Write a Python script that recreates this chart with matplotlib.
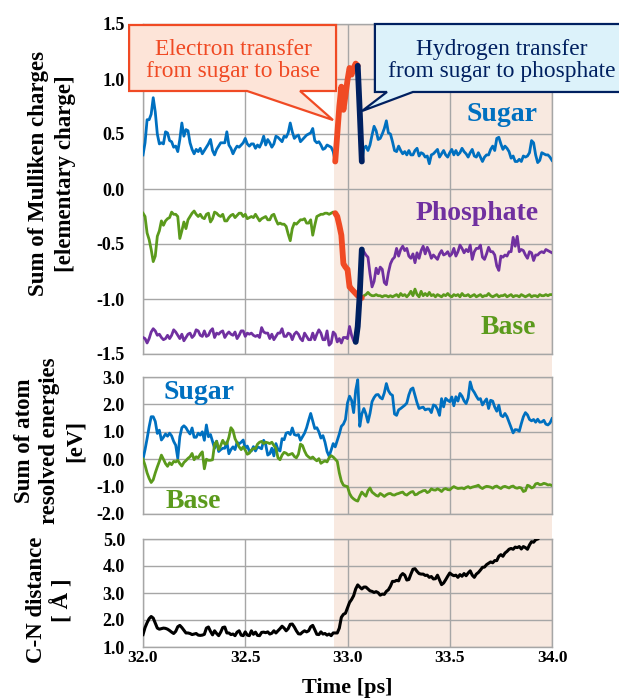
import numpy as np
import matplotlib
matplotlib.use('Agg')
import matplotlib.pyplot as plt
from matplotlib.patches import Polygon, Rectangle

plt.rcParams['font.family'] = ['Liberation Serif', 'DejaVu Serif']
plt.rcParams['axes.unicode_minus'] = False

# ---- data (0.01 ps sampling) ----
# Mulliken charges, top panel
sugar_q_pre = [0.31, 0.42, 0.63, 0.63, 0.68, 0.83, 0.70, 0.50, 0.41, 0.42,
               0.41, 0.52, 0.51, 0.44, 0.43, 0.38, 0.39, 0.34, 0.45, 0.60,
               0.48, 0.54, 0.53, 0.42, 0.36, 0.32, 0.36, 0.34, 0.37, 0.32,
               0.35, 0.38, 0.41, 0.45, 0.35, 0.31, 0.36, 0.39, 0.42, 0.42,
               0.42, 0.52, 0.40, 0.37, 0.32, 0.36, 0.39, 0.38, 0.40, 0.42,
               0.46, 0.41, 0.39, 0.41, 0.41, 0.37, 0.40, 0.38, 0.42, 0.48,
               0.40, 0.45, 0.42, 0.38, 0.41, 0.48, 0.47, 0.45, 0.43, 0.48,
               0.47, 0.51, 0.60, 0.52, 0.46, 0.48, 0.49, 0.43, 0.45, 0.47,
               0.49, 0.50, 0.51, 0.55, 0.44, 0.42, 0.43, 0.40, 0.36, 0.37,
               0.40, 0.39, 0.38, 0.34, 0.25]
sugar_q_et = [0.25, 0.50, 0.75, 0.93, 0.72, 0.85, 0.99, 1.10, 1.04, 1.10, 1.14, 1.12]
sugar_q_ht_t = [33.05, 33.06, 33.07]
sugar_q_ht = [1.12, 0.70, 0.25]
sugar_q_post = [0.25, 0.37, 0.39, 0.35, 0.40, 0.49, 0.57, 0.53, 0.45, 0.46,
                0.50, 0.55, 0.62, 0.51, 0.50, 0.43, 0.35, 0.34, 0.39, 0.35,
                0.32, 0.34, 0.31, 0.35, 0.31, 0.31, 0.35, 0.37, 0.30, 0.33,
                0.32, 0.29, 0.30, 0.23, 0.31, 0.32, 0.34, 0.36, 0.29, 0.32,
                0.35, 0.31, 0.29, 0.33, 0.36, 0.31, 0.35, 0.31, 0.33, 0.37,
                0.34, 0.32, 0.29, 0.33, 0.36, 0.30, 0.29, 0.33, 0.29, 0.25,
                0.29, 0.31, 0.31, 0.36, 0.39, 0.35, 0.46, 0.47, 0.41, 0.36,
                0.39, 0.37, 0.34, 0.28, 0.30, 0.25, 0.25, 0.27, 0.25, 0.30,
                0.29, 0.30, 0.33, 0.44, 0.42, 0.31, 0.24, 0.26, 0.33, 0.32,
                0.31, 0.31, 0.29, 0.26]

base_q_pre = [-0.22, -0.25, -0.40, -0.46, -0.55, -0.66, -0.61, -0.43, -0.38, -0.29,
              -0.33, -0.29, -0.27, -0.26, -0.21, -0.23, -0.23, -0.25, -0.45, -0.38,
              -0.30, -0.36, -0.28, -0.25, -0.22, -0.20, -0.23, -0.25, -0.23, -0.26,
              -0.27, -0.23, -0.22, -0.30, -0.27, -0.21, -0.22, -0.24, -0.25, -0.23,
              -0.29, -0.29, -0.26, -0.24, -0.23, -0.26, -0.24, -0.22, -0.22, -0.25,
              -0.23, -0.27, -0.26, -0.25, -0.26, -0.23, -0.26, -0.29, -0.27, -0.26,
              -0.25, -0.28, -0.28, -0.24, -0.23, -0.28, -0.32, -0.31, -0.32, -0.32,
              -0.34, -0.41, -0.47, -0.36, -0.31, -0.32, -0.30, -0.28, -0.28, -0.27,
              -0.31, -0.31, -0.28, -0.42, -0.33, -0.25, -0.24, -0.23, -0.23, -0.22,
              -0.22, -0.23, -0.22, -0.21, -0.22]
base_q_et = [-0.22, -0.25, -0.33, -0.42, -0.68, -0.71, -0.73, -0.89, -0.91, -0.93,
             -0.95, -0.97, -0.98, -0.99]
base_q_post = [-0.99, -0.97, -0.96, -0.94, -0.96, -0.97, -0.97, -0.96, -0.97, -0.97,
               -0.98, -0.97, -0.97, -0.98, -0.97, -0.98, -0.97, -0.96, -0.98, -0.95,
               -0.97, -0.96, -0.98, -0.96, -0.93, -0.97, -0.91, -0.96, -0.98, -0.93,
               -0.97, -0.95, -0.97, -0.94, -0.97, -0.96, -0.98, -0.96, -0.97, -0.98,
               -0.96, -0.97, -0.95, -0.97, -0.98, -0.96, -0.97, -0.96, -0.98, -0.95,
               -0.97, -0.97, -0.96, -0.98, -0.97, -0.96, -0.98, -0.97, -0.96, -0.98,
               -0.97, -0.97, -0.95, -0.97, -0.98, -0.97, -0.96, -0.98, -0.97, -0.97,
               -0.96, -0.98, -0.97, -0.96, -0.98, -0.97, -0.97, -0.98, -0.96, -0.97,
               -0.98, -0.97, -0.96, -0.98, -0.97, -0.97, -0.98, -0.96, -0.97, -0.97,
               -0.96, -0.97, -0.96, -0.96]

phos_q_pre = [-1.35, -1.36, -1.40, -1.36, -1.30, -1.27, -1.29, -1.33, -1.32, -1.35,
              -1.37, -1.36, -1.33, -1.36, -1.33, -1.28, -1.30, -1.33, -1.36, -1.32,
              -1.38, -1.35, -1.32, -1.31, -1.35, -1.33, -1.28, -1.29, -1.33, -1.34,
              -1.29, -1.34, -1.33, -1.29, -1.27, -1.35, -1.31, -1.32, -1.30, -1.29,
              -1.35, -1.32, -1.30, -1.32, -1.33, -1.30, -1.36, -1.33, -1.29, -1.29,
              -1.34, -1.31, -1.32, -1.31, -1.33, -1.34, -1.33, -1.35, -1.26, -1.30,
              -1.31, -1.31, -1.36, -1.32, -1.37, -1.34, -1.31, -1.31, -1.27, -1.34,
              -1.34, -1.31, -1.32, -1.37, -1.32, -1.30, -1.32, -1.36, -1.38, -1.31,
              -1.34, -1.37, -1.37, -1.31, -1.37, -1.32, -1.28, -1.31, -1.37, -1.37,
              -1.29, -1.42, -1.40, -1.30, -1.32, -1.39, -1.36, -1.40, -1.35, -1.35,
              -1.36, -1.25, -1.33, -1.38, -1.39]
phos_q_ht_t = [33.04, 33.05, 33.06, 33.07]
phos_q_ht = [-1.39, -1.25, -0.95, -0.55]
phos_q_post = [-0.55, -0.57, -0.60, -0.62, -0.77, -0.89, -0.84, -0.72, -0.77, -0.71,
               -0.73, -0.85, -0.87, -0.76, -0.68, -0.64, -0.62, -0.54, -0.61, -0.55,
               -0.52, -0.56, -0.54, -0.61, -0.63, -0.59, -0.67, -0.58, -0.63, -0.56,
               -0.52, -0.59, -0.53, -0.57, -0.63, -0.60, -0.62, -0.64, -0.59, -0.56,
               -0.60, -0.59, -0.57, -0.61, -0.59, -0.54, -0.61, -0.57, -0.51, -0.54,
               -0.58, -0.55, -0.57, -0.51, -0.64, -0.57, -0.54, -0.54, -0.51, -0.62,
               -0.64, -0.59, -0.53, -0.57, -0.57, -0.60, -0.70, -0.74, -0.61, -0.62,
               -0.60, -0.61, -0.57, -0.57, -0.44, -0.52, -0.43, -0.57, -0.55, -0.56,
               -0.60, -0.63, -0.57, -0.58, -0.65, -0.60, -0.60, -0.58, -0.57, -0.58,
               -0.55, -0.56, -0.57, -0.58]

# atom resolved energies, middle panel
sugar_e = [0.00, 0.35, 0.75, 1.18, 1.55, 1.55, 1.38, 0.94, 1.06, 0.70,
           0.80, 0.92, 0.84, 0.95, 0.85, 0.65, 0.51, 0.03, 0.82, 1.15,
           1.22, 1.15, 1.02, 0.92, 1.14, 0.80, 0.80, 0.95, 0.88, 1.00,
           0.69, 1.25, 0.82, 0.90, 0.65, 0.40, 0.66, 0.28, 0.35, 0.40,
           0.40, 0.63, 0.20, 0.35, 0.45, 0.35, 0.62, 0.56, 0.62, 0.70,
           0.40, 0.48, 0.30, 0.30, 0.46, 0.30, 0.45, 0.42, 0.38, 0.69,
           0.53, 0.15, 0.20, 0.40, 0.12, 0.57, 0.35, 0.30, 0.75, 0.71,
           0.95, 0.98, 0.90, 1.14, 0.90, 0.87, 0.90, 0.69, 0.82, 0.95,
           1.15, 1.42, 1.67, 1.40, 1.12, 1.15, 1.00, 0.77, 0.86, 0.62,
           0.28, 0.11, 0.33, 0.57, 0.45, 0.69, 0.92, 1.20, 1.28, 1.45,
           2.05, 2.30, 2.15, 1.70, 2.51, 2.90, 1.20, 1.65, 1.85, 1.65,
           1.35, 1.67, 2.10, 2.25, 2.35, 2.36, 2.25, 2.20, 2.42, 2.76,
           2.50, 2.38, 2.33, 1.65, 1.60, 1.80, 1.85, 1.91, 1.97, 2.05,
           2.35, 2.55, 2.60, 2.33, 2.06, 1.85, 1.88, 1.90, 1.80, 1.83,
           1.83, 1.70, 1.98, 1.95, 1.82, 1.60, 2.21, 1.91, 2.22, 2.15,
           2.10, 2.27, 1.95, 2.28, 2.12, 2.40, 2.30, 2.13, 2.03, 2.24,
           2.82, 2.55, 2.44, 2.30, 2.18, 2.21, 1.98, 2.10, 2.20, 1.85,
           2.15, 2.12, 1.90, 1.75, 1.97, 1.60, 1.55, 1.67, 1.55, 1.35,
           1.15, 0.96, 1.08, 1.07, 1.02, 1.30, 1.55, 1.70, 1.62, 1.45,
           1.40, 1.45, 1.35, 1.46, 1.35, 1.36, 1.42, 1.28, 1.25, 1.32,
           1.48]
base_e = [0.00, -0.22, -0.50, -0.70, -0.85, -0.75, -0.50, -0.28, -0.08, 0.15,
          0.00, -0.16, -0.26, -0.13, -0.20, -0.08, -0.10, -0.04, -0.16, -0.25,
          -0.12, -0.05, 0.03, 0.09, 0.21, -0.02, 0.09, 0.05, 0.18, 0.27,
          -0.35, 0.00, -0.04, -0.04, -0.02, 0.55, 0.65, 0.35, 0.50, 0.69,
          0.55, 0.57, 0.80, 1.15, 1.05, 0.75, 0.60, 0.45, 0.35, 0.45,
          0.33, 0.18, 0.22, 0.33, 0.39, 0.39, 0.55, 0.62, 0.65, 0.57,
          0.62, 0.60, 0.57, 0.62, 0.50, 0.40, 0.05, -0.02, 0.15, 0.25,
          0.22, 0.15, 0.18, 0.21, 0.10, 0.05, 0.18, 0.55, 0.50, 0.30,
          0.15, 0.08, 0.03, 0.08, 0.00, -0.06, 0.02, -0.15, -0.10, -0.06,
          -0.10, 0.05, 0.13, 0.08, 0.00, -0.08, -0.50, -0.80, -0.95, -0.98,
          -1.00, -1.25, -1.38, -1.45, -1.50, -1.53, -1.35, -1.20, -1.28, -1.35,
          -1.15, -1.05, -1.20, -1.26, -1.32, -1.35, -1.25, -1.30, -1.36, -1.30,
          -1.26, -1.25, -1.30, -1.31, -1.27, -1.25, -1.22, -1.20, -1.28, -1.31,
          -1.25, -1.20, -1.18, -1.30, -1.28, -1.22, -1.19, -1.15, -1.14, -1.22,
          -1.18, -1.08, -1.12, -1.13, -1.08, -1.12, -1.18, -1.10, -1.07, -1.11,
          -1.12, -1.05, -1.00, -1.04, -1.07, -1.06, -1.05, -1.08, -1.03, -1.00,
          -1.05, -1.02, -1.00, -0.98, -0.95, -1.03, -1.07, -1.02, -0.99, -1.00,
          -1.02, -1.06, -1.00, -0.98, -1.03, -1.07, -1.01, -0.99, -1.02, -1.05,
          -1.00, -0.98, -1.04, -1.06, -1.03, -1.05, -1.18, -1.15, -0.95, -0.98,
          -1.05, -1.02, -0.90, -0.88, -0.93, -0.92, -0.88, -0.90, -0.94, -0.93,
          -0.96]

# C-N distance, bottom panel
cn_dist = [1.46, 1.72, 1.90, 2.05, 2.13, 2.07, 1.89, 1.70, 1.66, 1.68,
           1.70, 1.69, 1.66, 1.61, 1.55, 1.50, 1.58, 1.75, 1.80, 1.72,
           1.62, 1.52, 1.52, 1.50, 1.46, 1.48, 1.50, 1.44, 1.43, 1.44,
           1.47, 1.70, 1.74, 1.58, 1.45, 1.60, 1.50, 1.42, 1.55, 1.72,
           1.74, 1.52, 1.52, 1.46, 1.48, 1.42, 1.55, 1.60, 1.44, 1.42,
           1.56, 1.44, 1.42, 1.60, 1.47, 1.55, 1.43, 1.42, 1.54, 1.55,
           1.53, 1.56, 1.48, 1.51, 1.60, 1.52, 1.60, 1.68, 1.77, 1.70,
           1.60, 1.68, 1.84, 1.85, 1.74, 1.60, 1.49, 1.48, 1.55, 1.60,
           1.56, 1.60, 1.75, 1.80, 1.64, 1.47, 1.46, 1.56, 1.48, 1.50,
           1.44, 1.48, 1.42, 1.52, 1.52, 1.52, 1.70, 2.10, 2.21, 2.25,
           2.45, 2.65, 2.76, 2.90, 3.15, 3.30, 3.22, 3.15, 3.22, 3.22,
           3.15, 3.08, 3.06, 3.02, 3.05, 3.01, 2.92, 2.96, 2.95, 3.06,
           3.12, 3.25, 3.43, 3.43, 3.47, 3.45, 3.64, 3.72, 3.66, 3.48,
           3.50, 3.70, 3.88, 3.90, 3.80, 3.72, 3.70, 3.70, 3.65, 3.66,
           3.58, 3.61, 3.52, 3.53, 3.66, 3.49, 3.31, 3.37, 3.49, 3.62,
           3.74, 3.68, 3.64, 3.66, 3.58, 3.68, 3.62, 3.72, 3.64, 3.74,
           3.82, 3.66, 3.58, 3.70, 3.76, 3.85, 3.95, 3.96, 4.05, 4.10,
           4.15, 4.12, 4.20, 4.20, 4.36, 4.42, 4.36, 4.48, 4.54, 4.62,
           4.65, 4.62, 4.70, 4.68, 4.72, 4.63, 4.72, 4.68, 4.62, 4.78,
           4.90, 4.88, 4.97, 5.00]

time_ticks = [32.0, 32.5, 33.0, 33.5, 34.0]
charge_ticks = [-1.5, -1.0, -0.5, 0.0, 0.5, 1.0, 1.5]
energy_ticks = [-2.0, -1.0, 0.0, 1.0, 2.0, 3.0]
dist_ticks = [1.0, 2.0, 3.0, 4.0, 5.0]
reaction_start = 32.935


def times(start, values):
    return np.round(start + 0.01 * np.arange(len(values)), 2)


c_sugar = '#0070c0'
c_base = '#5b9a1c'
c_phos = '#7030a0'
c_et = '#f04a24'
c_ht = '#002060'
c_grid = '#a6a6a6'

W, H = 619, 699
fig = plt.figure(figsize=(W / 100, H / 100), dpi=100)


def rect(left, top, right, bottom):
    return [left / W, 1 - bottom / H, (right - left) / W, (bottom - top) / H]


ax1 = fig.add_axes(rect(143, 24, 552, 354))
ax2 = fig.add_axes(rect(143, 377, 552, 514))
ax3 = fig.add_axes(rect(143, 539, 552, 647))

for ax, ticks in ((ax1, charge_ticks), (ax2, energy_ticks), (ax3, dist_ticks)):
    ax.set_facecolor('none')
    ax.set_xlim(32, 34)
    ax.set_ylim(ticks[0], ticks[-1])
    ax.set_xticks(time_ticks, labels=[f'{t:.1f}' for t in time_ticks],
                  fontweight='bold', fontsize=12.5)
    ax.set_yticks(ticks, labels=[f'{t:.1f}' for t in ticks],
                  fontweight='bold', fontsize=13)
    ax.grid(True, color=c_grid, lw=1)
    ax.set_axisbelow(True)
    for s in ax.spines.values():
        s.set_color(c_grid)
        s.set_linewidth(1)
    ax.tick_params(axis='y', length=0, pad=13)
    ax.tick_params(axis='x', length=0, pad=2)
ax1.tick_params(axis='x', labelbottom=False)
ax2.tick_params(axis='x', labelbottom=False)

# shaded reaction window behind all three panels
x0 = fig.transFigure.inverted().transform(ax1.transData.transform((reaction_start, 0)))[0]
x1 = ax1.get_position().x1
y_bot = ax3.get_position().y0
y_top = ax1.get_position().y1
fig.patches.append(Rectangle((x0, y_bot), x1 - x0, y_top - y_bot, transform=fig.transFigure,
                             facecolor='#f8e9e0', edgecolor='none', zorder=-1))

lw = 2.0
lw_thick = 4.2
ax1.plot(times(32.0, sugar_q_pre), sugar_q_pre, color=c_sugar, lw=lw, zorder=3)
ax1.plot(times(33.07, sugar_q_post), sugar_q_post, color=c_sugar, lw=lw, zorder=3)
ax1.plot(times(32.0, base_q_pre), base_q_pre, color=c_base, lw=lw, zorder=3)
ax1.plot(times(33.07, base_q_post), base_q_post, color=c_base, lw=lw, zorder=3)
ax1.plot(times(32.0, phos_q_pre), phos_q_pre, color=c_phos, lw=lw, zorder=3)
ax1.plot(times(33.07, phos_q_post), phos_q_post, color=c_phos, lw=lw, zorder=3)
ax1.plot(times(32.94, sugar_q_et), sugar_q_et, color=c_et, lw=lw_thick, zorder=4,
         solid_capstyle='round')
ax1.plot(times(32.94, base_q_et), base_q_et, color=c_et, lw=lw_thick, zorder=4,
         solid_capstyle='round')
ax1.plot(sugar_q_ht_t, sugar_q_ht, color=c_ht, lw=lw_thick, zorder=5, solid_capstyle='round')
ax1.plot(phos_q_ht_t, phos_q_ht, color=c_ht, lw=lw_thick, zorder=5, solid_capstyle='round')

lab = dict(fontsize=20, fontweight='bold', ha='center', va='center')
ax1.text(33.756, 0.68, 'Sugar', color=c_sugar, **lab)
ax1.text(33.633, -0.22, 'Phosphate', color=c_phos, **lab)
ax1.text(33.785, -1.255, 'Base', color=c_base, **lab)

# callouts
red_callout = [(31.932, 1.491), (32.944, 1.491), (32.944, 0.891), (32.768, 0.891),
               (32.929, 0.627), (32.509, 0.891), (31.932, 0.891)]
blue_callout = [(33.134, 1.5), (34.4, 1.5), (34.4, 0.882), (33.32, 0.882),
                (33.071, 0.709), (33.193, 0.882), (33.134, 0.882)]
ax1.add_patch(Polygon(red_callout, closed=True, facecolor='#fde4d8', edgecolor=c_et,
                      lw=1.6, clip_on=False, zorder=6))
ax1.add_patch(Polygon(blue_callout, closed=True, facecolor='#dcf2fa', edgecolor=c_ht,
                      lw=1.6, clip_on=False, zorder=6))
ax1.text(32.44, 1.168, 'Electron transfer\nfrom sugar to base', color=c_et, fontsize=16.8,
         ha='center', va='center', linespacing=1.1, zorder=7)
ax1.text(33.754, 1.168, 'Hydrogen transfer\nfrom sugar to phosphate', color=c_ht, fontsize=16.8,
         ha='center', va='center', linespacing=1.1, zorder=7, clip_on=False)

ax2.plot(times(32.0, sugar_e), sugar_e, color=c_sugar, lw=lw, zorder=3)
ax2.plot(times(32.0, base_e), base_e, color=c_base, lw=lw, zorder=3)
ax2.text(32.274, 2.42, 'Sugar', color=c_sugar, **lab)
ax2.text(32.245, -1.56, 'Base', color=c_base, **lab)

ax3.plot(times(32.0, cn_dist), cn_dist, color='black', lw=2.2, zorder=3)

ylab = dict(fontsize=16.5, fontweight='bold', rotation=90, ha='center', va='center',
            multialignment='center')
fig.text(52 / W, 1 - 174 / H, 'Sum of Mulliken charges\n[elementary charge]',
         linespacing=1.35, **ylab)
fig.text(50 / W, 1 - 441 / H, 'Sum of atom\nresolved energies\n[eV]', linespacing=1.25, **ylab)
fig.text(50 / W, 1 - 600 / H, 'C-N distance\n[ Å ]', linespacing=1.25, **ylab)
fig.text(347 / W, 1 - 688 / H, 'Time [ps]', fontsize=16, fontweight='bold',
         ha='center', va='center')

fig.savefig('out.png', dpi=100)
